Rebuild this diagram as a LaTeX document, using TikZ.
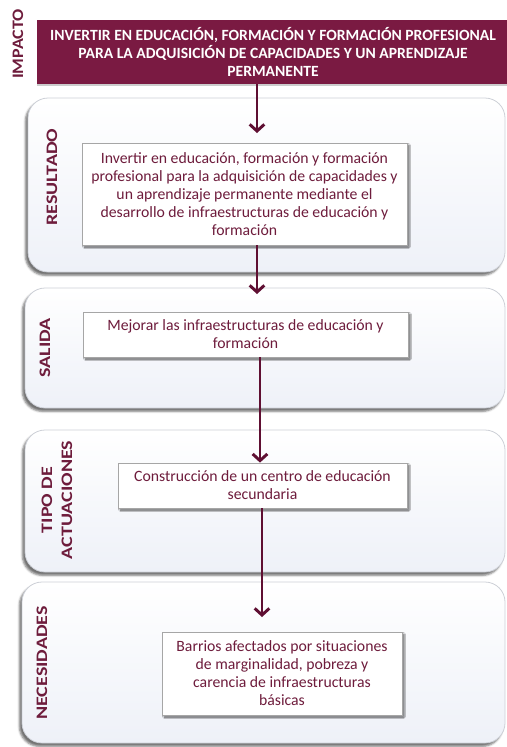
\documentclass[tikz,border=0pt]{standalone}
\usepackage{fontspec}
\setmainfont{Carlito}
\usetikzlibrary{shadows,shadows.blur,arrows.meta}
\definecolor{imp}{RGB}{122,26,66}
\definecolor{txt}{RGB}{110,28,60}
\definecolor{arrc}{RGB}{95,15,50}
\definecolor{pfill}{RGB}{238,241,248}
\definecolor{pline}{RGB}{205,208,215}
\begin{document}
\begin{tikzpicture}[x=0.75pt,y=-0.75pt,
  panel/.style={draw=pline, line width=0.6pt, rounded corners=15pt, top color=white, bottom color=pfill,
    blur shadow={shadow xshift=-2pt, shadow yshift=-2.5pt, shadow blur radius=1.5pt, shadow opacity=55}},
  innerbox/.style={draw=black!35, fill=white, line width=0.6pt, align=center, text=txt,
    font=\fontsize{11.8}{13.5}\selectfont, inner sep=2pt,
    blur shadow={shadow xshift=1.5pt, shadow yshift=-1.5pt, shadow blur radius=1pt, shadow opacity=60}},
  lab/.style={rotate=90, xscale=1.25, font=\bfseries\fontsize{12}{15}\selectfont, text=txt, align=center},
  arrow/.style={draw=arrc, line width=2.2pt, -{Straight Barb[length=5pt,width=11pt]}}
]
\useasboundingbox (0,0) rectangle (507,747);

% panels
\draw[panel] (28,98) rectangle (505,272);
\draw[panel] (25,288) rectangle (505,408);
\draw[panel] (25,430) rectangle (505,572);
\draw[panel] (22,582) rectangle (505,743);

% top box
\node[fill=imp, minimum width=354pt, minimum height=48pt, align=center, text=white,
  font=\bfseries\fontsize{11.7}{13.5}\selectfont,
  drop shadow={shadow xshift=0pt, shadow yshift=-1.5pt, opacity=0.4}] (impact) at (273,52)
  {INVERTIR EN EDUCACIÓN, FORMACIÓN Y FORMACIÓN PROFESIONAL\\PARA LA ADQUISICIÓN DE CAPACIDADES Y UN APRENDIZAJE\\PERMANENTE};

% labels
\node[lab, xscale=0.9] (limp) at (18,44) {IMPACTO};
\node[lab] (lres) at (52,177) {RESULTADO};
\node[lab] (lsal) at (45,348) {SALIDA};
\node[lab] (ltip) at (57,500) {TIPO DE\\ACTUACIONES};
\node[lab] (lnec) at (42,663) {NECESIDADES};

% inner boxes
\node[innerbox, minimum width=243.75pt, minimum height=76.5pt] (b1) at (244.5,194)
  {Invertir en educación, formación y formación\\profesional para la adquisición de capacidades y\\un aprendizaje permanente mediante el\\desarrollo de infraestructuras de educación y\\formación};
\node[innerbox, minimum width=243.75pt, minimum height=33.75pt] (b2) at (245.5,334.5)
  {Mejorar las infraestructuras de educación y\\formación};
\node[innerbox, minimum width=216.75pt, minimum height=33.75pt] (b3) at (262.5,485.5)
  {Construcción de un centro de educación\\secundaria};
\node[innerbox, minimum width=180pt, minimum height=62.25pt] (b4) at (282,673.5)
  {Barrios afectados por situaciones\\de marginalidad, pobreza y\\carencia de infraestructuras\\básicas};

% arrows
\coordinate (a1) at (257,133);
\coordinate (a2) at (257,294);
\coordinate (a3) at (260,0);
\coordinate (a4) at (262,617);
\draw[arrow] (impact.south -| a1) -- (a1);
\draw[arrow] (b1.south -| a2) -- (a2);
\draw[arrow] (b2.south -| a3) -- (b3.north -| a3);
\draw[arrow] (b3.south -| a4) -- (a4);
\end{tikzpicture}
\end{document}
